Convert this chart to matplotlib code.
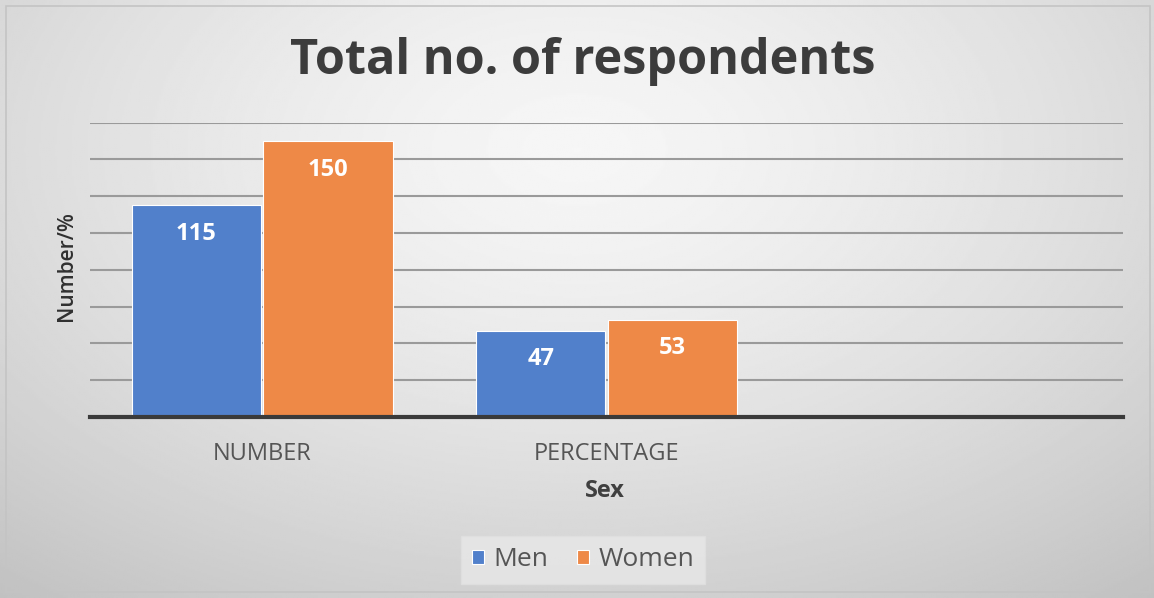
import matplotlib.pyplot as plt
import numpy as np
from matplotlib.patches import Rectangle

# data
categories = ["NUMBER", "PERCENTAGE", ""]
men = [115, 47, 0]
women = [150, 53, 0]
series_names = ["Men", "Women"]

blue = "#5180cb"
orange = "#ee8947"

plt.rcParams['font.family'] = ['Open Sans', 'DejaVu Sans']

fig = plt.figure(figsize=(11.54, 5.98), dpi=100)

# gradient background (radial, light in the middle-top)
bg = fig.add_axes([0, 0, 1, 1], zorder=-10)
yy, xx = np.mgrid[0:1:300j, 0:1:600j]
r = np.sqrt(((xx - 0.5) / 0.75) ** 2 + ((yy - 0.25) / 0.9) ** 2)
img = 0.965 - 0.19 * np.clip(r, 0, 1.2) ** 1.4
bg.imshow(img, cmap="gray", vmin=0, vmax=1, extent=[0, 1, 1, 0], aspect="auto")
bg.set_xlim(0, 1)
bg.set_ylim(1, 0)
bg.axis("off")
# chart frame
bg.add_patch(Rectangle((6 / 1154, 6 / 598), 1144 / 1154, 586 / 598, fill=False,
                       edgecolor="#c4c4c4", lw=1.2))

# plot area
ax = fig.add_axes([90 / 1154, 1 - 417 / 598, (1123 - 90) / 1154, (417 - 122.7) / 598])
ax.patch.set_alpha(0)

x = np.arange(len(categories))
w = 0.376
b1 = ax.bar(x - w / 2 - 0.003, men, w, color=blue, edgecolor="white", linewidth=0.8, zorder=3)
b2 = ax.bar(x + w / 2 + 0.003, women, w, color=orange, edgecolor="white", linewidth=0.8, zorder=3)

for bars, vals in ((b1, men), (b2, women)):
    for rect, v in zip(bars, vals):
        if v == 0:
            continue
        ax.text(rect.get_x() + rect.get_width() / 2, v - 15.5, str(v), ha="center", va="center",
                color="white", fontsize=17, fontweight="bold", zorder=4)

ax.set_xlim(-0.5, len(categories) - 0.5)
ax.set_ylim(0, 160)
ax.set_yticks(np.arange(20, 161, 20))
ax.yaxis.grid(True, color="#9a9a9a", linewidth=1.5, zorder=1)
ax.set_yticklabels([])
ax.tick_params(axis="y", length=0)
ax.tick_params(axis="x", length=0, pad=18)
ax.set_xticks(x)
ax.set_xticklabels(categories, fontsize=17, color="#555555")
for s in ["top", "right", "left"]:
    ax.spines[s].set_visible(False)
ax.spines["bottom"].set_color("#3a3a3a")
ax.spines["bottom"].set_linewidth(3)
ax.spines["bottom"].set_zorder(5)

fig.text(583 / 1154, 1 - 62 / 598, "Total no. of respondents", ha="center", va="center",
         fontsize=35, fontweight="bold", color="#3c3c3c")
fig.text(605 / 1154, 1 - 491 / 598, "Sex", ha="center", va="center",
         fontsize=17, fontweight="bold", color="#404040")
fig.text(67 / 1154, 1 - 266 / 598, "Number/%", ha="center", va="center", rotation=90,
         fontsize=15, fontweight="semibold", color="#303030")

leg = fig.legend([b1, b2], series_names, loc="center", bbox_to_anchor=(583 / 1154, 1 - 560 / 598),
                 ncol=2, fontsize=19, frameon=True, handlelength=0.45, handleheight=0.45,
                 handletextpad=0.35, columnspacing=1.1, borderpad=0.12, borderaxespad=0)
leg.get_frame().set_facecolor("#e8e8e8")
leg.get_frame().set_edgecolor("#e0e0e0")
leg.get_frame().set_boxstyle("square")
for t in leg.get_texts():
    t.set_color("#555555")

fig.savefig("out.png", dpi=100)
